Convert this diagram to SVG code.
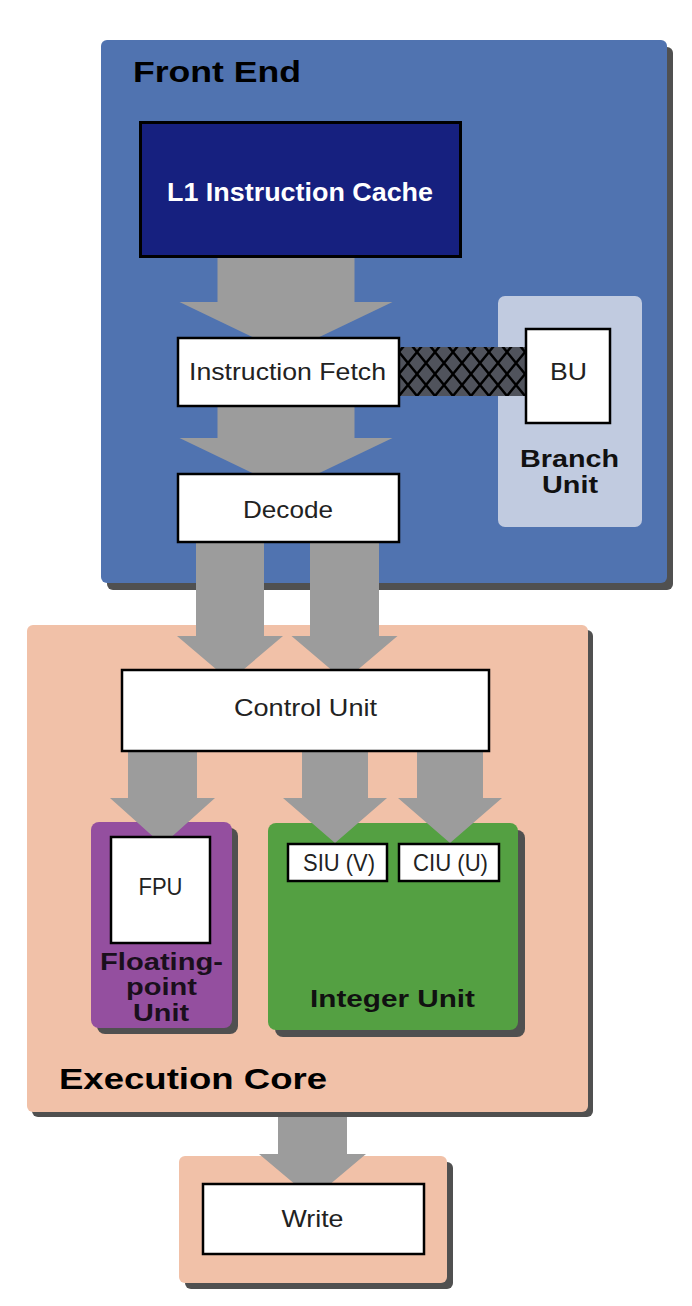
<svg xmlns="http://www.w3.org/2000/svg" width="692" height="1306" viewBox="0 0 692 1306">
<defs>
<style>
.shadow{fill:#505050}
.title{font-family:"Liberation Sans",Arial,sans-serif;font-weight:bold;fill:#000}
.glabel{font-family:"Liberation Sans",Arial,sans-serif;font-weight:bold;font-size:24px;text-anchor:middle}
.node{fill:#fff;stroke:#000;stroke-width:2.5}
.lbl{font-family:"Liberation Sans",Arial,sans-serif;font-size:24px;fill:#222;text-anchor:middle}
.arrow{fill:#9c9c9c}
</style>
<pattern id="hatch" x="399" y="352" width="18" height="22" patternUnits="userSpaceOnUse">
<rect width="18" height="22" fill="#50535c"/>
<path d="M-4.5,-5.5 L22.5,27.5 M22.5,-5.5 L-4.5,27.5" stroke="#000" stroke-width="2.4" fill="none"/>
</pattern>
</defs>
<rect width="692" height="1306" fill="#fff"/>

<g id="front-end">
<rect class="shadow" x="107" y="47" width="566" height="543" rx="6"/>
<rect x="101" y="40" width="566" height="543" rx="6" fill="#5073b0"/>
<text class="title" x="133" y="82" font-size="30" textLength="168" lengthAdjust="spacingAndGlyphs">Front End</text>
</g>

<g id="branch-unit">
<rect x="498" y="296" width="144" height="231" rx="7" fill="#c1cbe0"/>
<text class="glabel" x="569.5" y="467" fill="#111" textLength="99" lengthAdjust="spacingAndGlyphs">Branch</text>
<text class="glabel" x="570" y="493" fill="#111" textLength="56" lengthAdjust="spacingAndGlyphs">Unit</text>
</g>

<g id="execution-core">
<rect class="shadow" x="32" y="630" width="561" height="487" rx="6"/>
<rect x="27" y="625" width="561" height="487" rx="6" fill="#f1c1a8"/>
<text class="title" x="59" y="1089" font-size="30" textLength="268" lengthAdjust="spacingAndGlyphs">Execution Core</text>
</g>

<g id="floating-point-unit">
<rect class="shadow" x="97" y="828" width="141" height="206" rx="8"/>
<rect x="91" y="822" width="141" height="206" rx="8" fill="#944f9f"/>
<text class="glabel" x="161.5" y="970" fill="#1a0f1c" textLength="123" lengthAdjust="spacingAndGlyphs">Floating-</text>
<text class="glabel" x="161.5" y="995" fill="#1a0f1c" textLength="71" lengthAdjust="spacingAndGlyphs">point</text>
<text class="glabel" x="161" y="1021" fill="#1a0f1c" textLength="56" lengthAdjust="spacingAndGlyphs">Unit</text>
</g>

<g id="integer-unit">
<rect class="shadow" x="275" y="830" width="250" height="207" rx="8"/>
<rect x="268" y="823" width="250" height="207" rx="8" fill="#54a042"/>
<text class="glabel" x="392.5" y="1007" fill="#111" font-size="26" textLength="165" lengthAdjust="spacingAndGlyphs">Integer Unit</text>
</g>

<g id="write-stage">
<rect class="shadow" x="185" y="1162" width="268" height="127" rx="6"/>
<rect x="179" y="1156" width="268" height="127" rx="6" fill="#f1c1a8"/>
</g>

<g id="connectors">
<polygon class="arrow" points="217.5,256 354.5,256 354.5,302 392.5,302 286,353 179.5,302 217.5,302"/>
<polygon class="arrow" points="217.5,405 354.5,405 354.5,438 392.5,438 286,489 179.5,438 217.5,438"/>
<polygon class="arrow" points="196,541 264,541 264,636 283,636 230,681 177,636 196,636"/>
<polygon class="arrow" points="310,541 379,541 379,636 397.5,636 344.5,681 291.5,636 310,636"/>
<polygon class="arrow" points="128,749 197,749 197,798 215,798 162.5,845 110,798 128,798"/>
<polygon class="arrow" points="302,749 368,749 368,798 387,798 335,843 283,798 302,798"/>
<polygon class="arrow" points="417,749 483,749 483,798 502,798 450,843 398,798 417,798"/>
<polygon class="arrow" points="278,1117 347,1117 347,1154 366,1154 312.5,1199 259,1154 278,1154"/>
<rect x="399" y="347" width="127" height="49" fill="url(#hatch)"/>
</g>

<g id="l1-instruction-cache">
<rect x="140.5" y="122.5" width="320" height="134" fill="#16207f" stroke="#000" stroke-width="3"/>
<text x="300" y="201" font-family="'Liberation Sans',Arial,sans-serif" font-weight="bold" font-size="25" fill="#fff" text-anchor="middle" textLength="266" lengthAdjust="spacingAndGlyphs">L1 Instruction Cache</text>
</g>

<g id="instruction-fetch">
<rect class="node" x="178" y="338" width="221" height="68"/>
<text class="lbl" x="287.5" y="380" textLength="197" lengthAdjust="spacingAndGlyphs">Instruction Fetch</text>
</g>

<g id="bu">
<rect class="node" x="526" y="329" width="84" height="94"/>
<text class="lbl" x="568.5" y="380" textLength="37" lengthAdjust="spacingAndGlyphs">BU</text>
</g>

<g id="decode">
<rect class="node" x="178" y="474" width="221" height="68"/>
<text class="lbl" x="288" y="518" textLength="90" lengthAdjust="spacingAndGlyphs">Decode</text>
</g>

<g id="control-unit">
<rect class="node" x="122" y="670" width="367" height="81"/>
<text class="lbl" x="305.5" y="716" textLength="143" lengthAdjust="spacingAndGlyphs">Control Unit</text>
</g>

<g id="fpu">
<rect class="node" x="111" y="837" width="99" height="106"/>
<text class="lbl" x="160.5" y="895" textLength="44" lengthAdjust="spacingAndGlyphs">FPU</text>
</g>

<g id="siu">
<rect class="node" x="288" y="844" width="99" height="37"/>
<text class="lbl" x="339" y="871" font-size="22" textLength="72" lengthAdjust="spacingAndGlyphs">SIU (V)</text>
</g>

<g id="ciu">
<rect class="node" x="399" y="844" width="100" height="37"/>
<text class="lbl" x="450.5" y="871" font-size="22" textLength="75" lengthAdjust="spacingAndGlyphs">CIU (U)</text>
</g>

<g id="write">
<rect class="node" x="203" y="1184" width="221" height="70"/>
<text class="lbl" x="312.5" y="1227" textLength="62" lengthAdjust="spacingAndGlyphs">Write</text>
</g>
</svg>
